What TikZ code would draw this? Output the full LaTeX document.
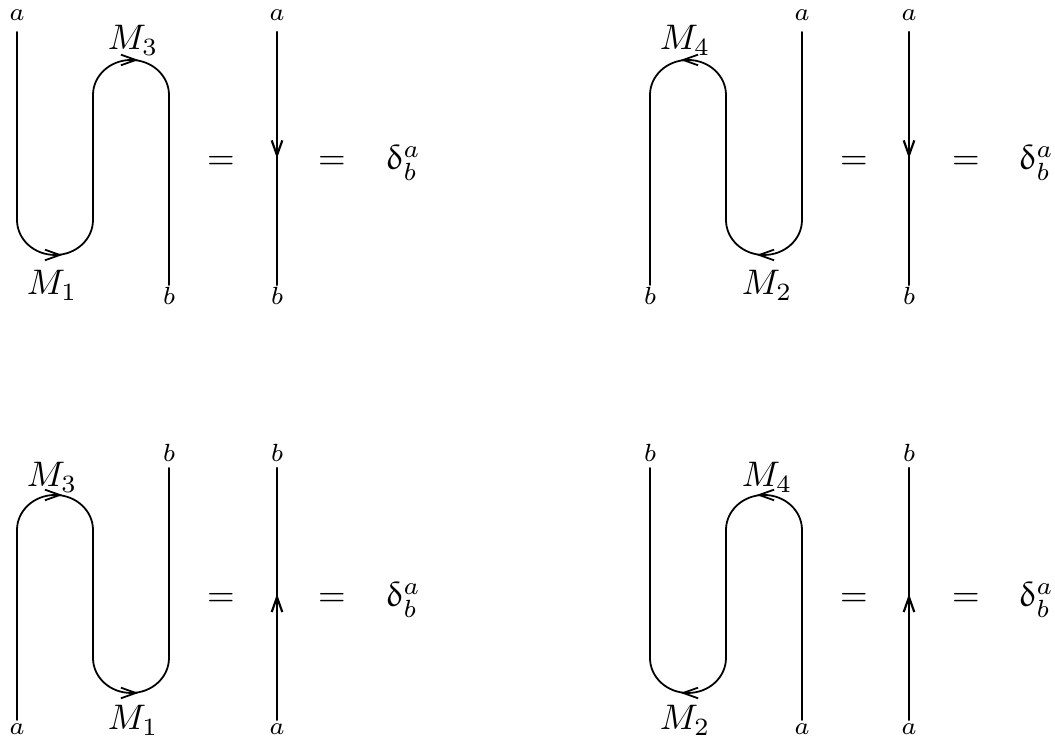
\documentclass[tikz,border=0pt]{standalone}
\usepackage{upgreek}
\usetikzlibrary{arrows.meta,decorations.markings}
\tikzset{midarrow/.style={postaction={decorate},decoration={markings,
  mark=at position 0.5 with {\arrow[xshift=#1]{Straight Barb[length=4.2pt,width=3pt]}}}}}
\begin{document}
\begin{tikzpicture}[line cap=round,line join=round,x=0.2817pt,y=0.2817pt,line width=0.5pt]
		\useasboundingbox (0,0) rectangle (1055,742);
		% top left
		\draw (17,710) -- (17,522);
		\draw [midarrow=2.1pt] (17,522) arc[start angle=180,end angle=360,x radius=38,y radius=35];
		\draw (93,522) -- (93,647);
		\draw [midarrow=2.1pt] (93,647) arc[start angle=180,end angle=0,x radius=38,y radius=35];
		\draw (169,647) -- (169,457);
		\draw [line width=0.6pt,midarrow=0pt] (277,710) -- (277,457);
		\node (tla) [anchor=base] at (17,721) {\scriptsize $a$};
		\node (tlb) [anchor=base] at (169,437) {\scriptsize $b$};
		\node (tlra) [anchor=base] at (277,721) {\scriptsize $a$};
		\node (tlrb) [anchor=base] at (277,437) {\scriptsize $b$};
		\node (tlm3) [anchor=base] at (133,692) {$M_3$};
		\node (tlm1) [anchor=base] at (52,447) {$M_1$};
		\node (tleq1) [anchor=base] at (221,572) {$=$};
		\node (tleq2) [anchor=base] at (332,572) {$=$};
		\node (tld) [anchor=base west,inner sep=0pt] at (385,572) {$\updelta^a_b$};
		% top right
		\draw (802,710) -- (802,522);
		\draw [midarrow=2.1pt] (802,522) arc[start angle=360,end angle=180,x radius=38,y radius=35];
		\draw (726,522) -- (726,647);
		\draw [midarrow=2.1pt] (726,647) arc[start angle=0,end angle=180,x radius=38,y radius=35];
		\draw (650,647) -- (650,457);
		\draw [line width=0.6pt,midarrow=0pt] (909,710) -- (909,457);
		\node (tra) [anchor=base] at (802,721) {\scriptsize $a$};
		\node (trb) [anchor=base] at (650,437) {\scriptsize $b$};
		\node (trra) [anchor=base] at (909,721) {\scriptsize $a$};
		\node (trrb) [anchor=base] at (909,437) {\scriptsize $b$};
		\node (trm4) [anchor=base] at (685,692) {$M_4$};
		\node (trm2) [anchor=base] at (767,447) {$M_2$};
		\node (treq1) [anchor=base] at (854,572) {$=$};
		\node (treq2) [anchor=base] at (966,572) {$=$};
		\node (trd) [anchor=base west,inner sep=0pt] at (1018,572) {$\updelta^a_b$};
		% bottom left
		\draw (17,22) -- (17,212);
		\draw [midarrow=2.1pt] (17,212) arc[start angle=180,end angle=0,x radius=38,y radius=35];
		\draw (93,212) -- (93,84);
		\draw [midarrow=2.1pt] (93,84) arc[start angle=180,end angle=360,x radius=38,y radius=35];
		\draw (169,84) -- (169,274);
		\draw [line width=0.6pt,midarrow=0pt] (277,22) -- (277,274);
		\node (bla) [anchor=base] at (17,7) {\scriptsize $a$};
		\node (blb) [anchor=base] at (169,280) {\scriptsize $b$};
		\node (blra) [anchor=base] at (277,7) {\scriptsize $a$};
		\node (blrb) [anchor=base] at (277,280) {\scriptsize $b$};
		\node (blm3) [anchor=base] at (52,255) {$M_3$};
		\node (blm1) [anchor=base] at (133,12) {$M_1$};
		\node (bleq1) [anchor=base] at (221,135) {$=$};
		\node (bleq2) [anchor=base] at (332,135) {$=$};
		\node (bld) [anchor=base west,inner sep=0pt] at (385,135) {$\updelta^a_b$};
		% bottom right
		\draw (802,22) -- (802,212);
		\draw [midarrow=2.1pt] (802,212) arc[start angle=0,end angle=180,x radius=38,y radius=35];
		\draw (726,212) -- (726,84);
		\draw [midarrow=2.1pt] (726,84) arc[start angle=360,end angle=180,x radius=38,y radius=35];
		\draw (650,84) -- (650,274);
		\draw [line width=0.6pt,midarrow=0pt] (909,22) -- (909,274);
		\node (bra) [anchor=base] at (802,7) {\scriptsize $a$};
		\node (brb) [anchor=base] at (650,280) {\scriptsize $b$};
		\node (brra) [anchor=base] at (909,7) {\scriptsize $a$};
		\node (brrb) [anchor=base] at (909,280) {\scriptsize $b$};
		\node (brm4) [anchor=base] at (767,255) {$M_4$};
		\node (brm2) [anchor=base] at (685,12) {$M_2$};
		\node (breq1) [anchor=base] at (854,135) {$=$};
		\node (breq2) [anchor=base] at (966,135) {$=$};
		\node (brd) [anchor=base west,inner sep=0pt] at (1018,135) {$\updelta^a_b$};
\end{tikzpicture}
\end{document}
